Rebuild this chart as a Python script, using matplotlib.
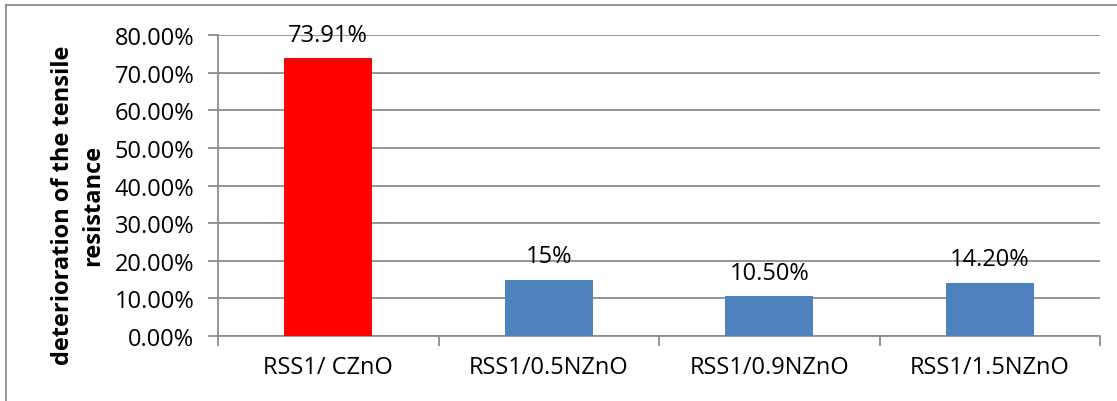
import matplotlib
matplotlib.use("Agg")
import matplotlib.pyplot as plt
from matplotlib.lines import Line2D
from matplotlib.ticker import FuncFormatter, MultipleLocator

categories = ["RSS1/ CZnO", "RSS1/0.5NZnO", "RSS1/0.9NZnO", "RSS1/1.5NZnO"]
values = [73.91, 15.0, 10.5, 14.2]
value_labels = ["73.91%", "15%", "10.50%", "14.20%"]
bar_colors = ["#FF0000", "#4F81BD", "#4F81BD", "#4F81BD"]
ylabel = "deterioration of the tensile\nresistance"

plt.rcParams['font.family'] = ['Open Sans', 'DejaVu Sans']
FS = 17

fig = plt.figure(figsize=(11.17, 4.02), dpi=100)
ax = fig.add_axes([218/1117, 1-337/402, (1100-218)/1117, (337-36)/402])

x = list(range(len(categories)))
ax.bar(x, values, width=0.4, color=bar_colors, zorder=3)
for xi, v, lab in zip(x, values, value_labels):
    ax.annotate(lab, (xi, v), xytext=(0, 8), textcoords='offset points',
                ha='center', va='bottom', fontsize=FS, color='#000000', zorder=4)

ax.set_xlim(-0.5, len(categories)-0.5)
ax.set_ylim(0, 80)
ax.yaxis.set_major_locator(MultipleLocator(10))
ax.yaxis.set_major_formatter(FuncFormatter(lambda v, p: f"{v:.2f}%"))
ax.grid(axis='y', color='#8C8C8C', linewidth=1.3, zorder=0)
ax.set_xticks([i + 0.5 for i in range(len(categories) - 1)] + [-0.5, len(categories)-0.5])
ax.set_xticklabels([])
ax.set_xticks(x, minor=True)
ax.set_xticklabels(categories, minor=True)
ax.tick_params(axis='x', which='major', length=7, color='#8C8C8C', width=1.3)
ax.tick_params(axis='x', which='minor', length=0, pad=14, labelsize=FS)
ax.tick_params(axis='y', length=7, color='#8C8C8C', width=1.3, labelsize=FS, pad=10)
for s in ['top', 'right']:
    ax.spines[s].set_visible(False)
for s in ['left', 'bottom']:
    ax.spines[s].set_color('#8C8C8C')
    ax.spines[s].set_linewidth(1.3)

fig.text(78/1117, 1-205/402, ylabel, rotation=90, ha='center', va='center',
         fontsize=FS, fontweight='bold', multialignment='center', linespacing=1.3)

fig.add_artist(Line2D([6/1117, 6/1117], [0, 1-6/402], color='#8C8C8C', linewidth=1.3, transform=fig.transFigure))
fig.add_artist(Line2D([6/1117, 1], [1-6/402, 1-6/402], color='#8C8C8C', linewidth=1.3, transform=fig.transFigure))

fig.savefig("out.png", dpi=100)
